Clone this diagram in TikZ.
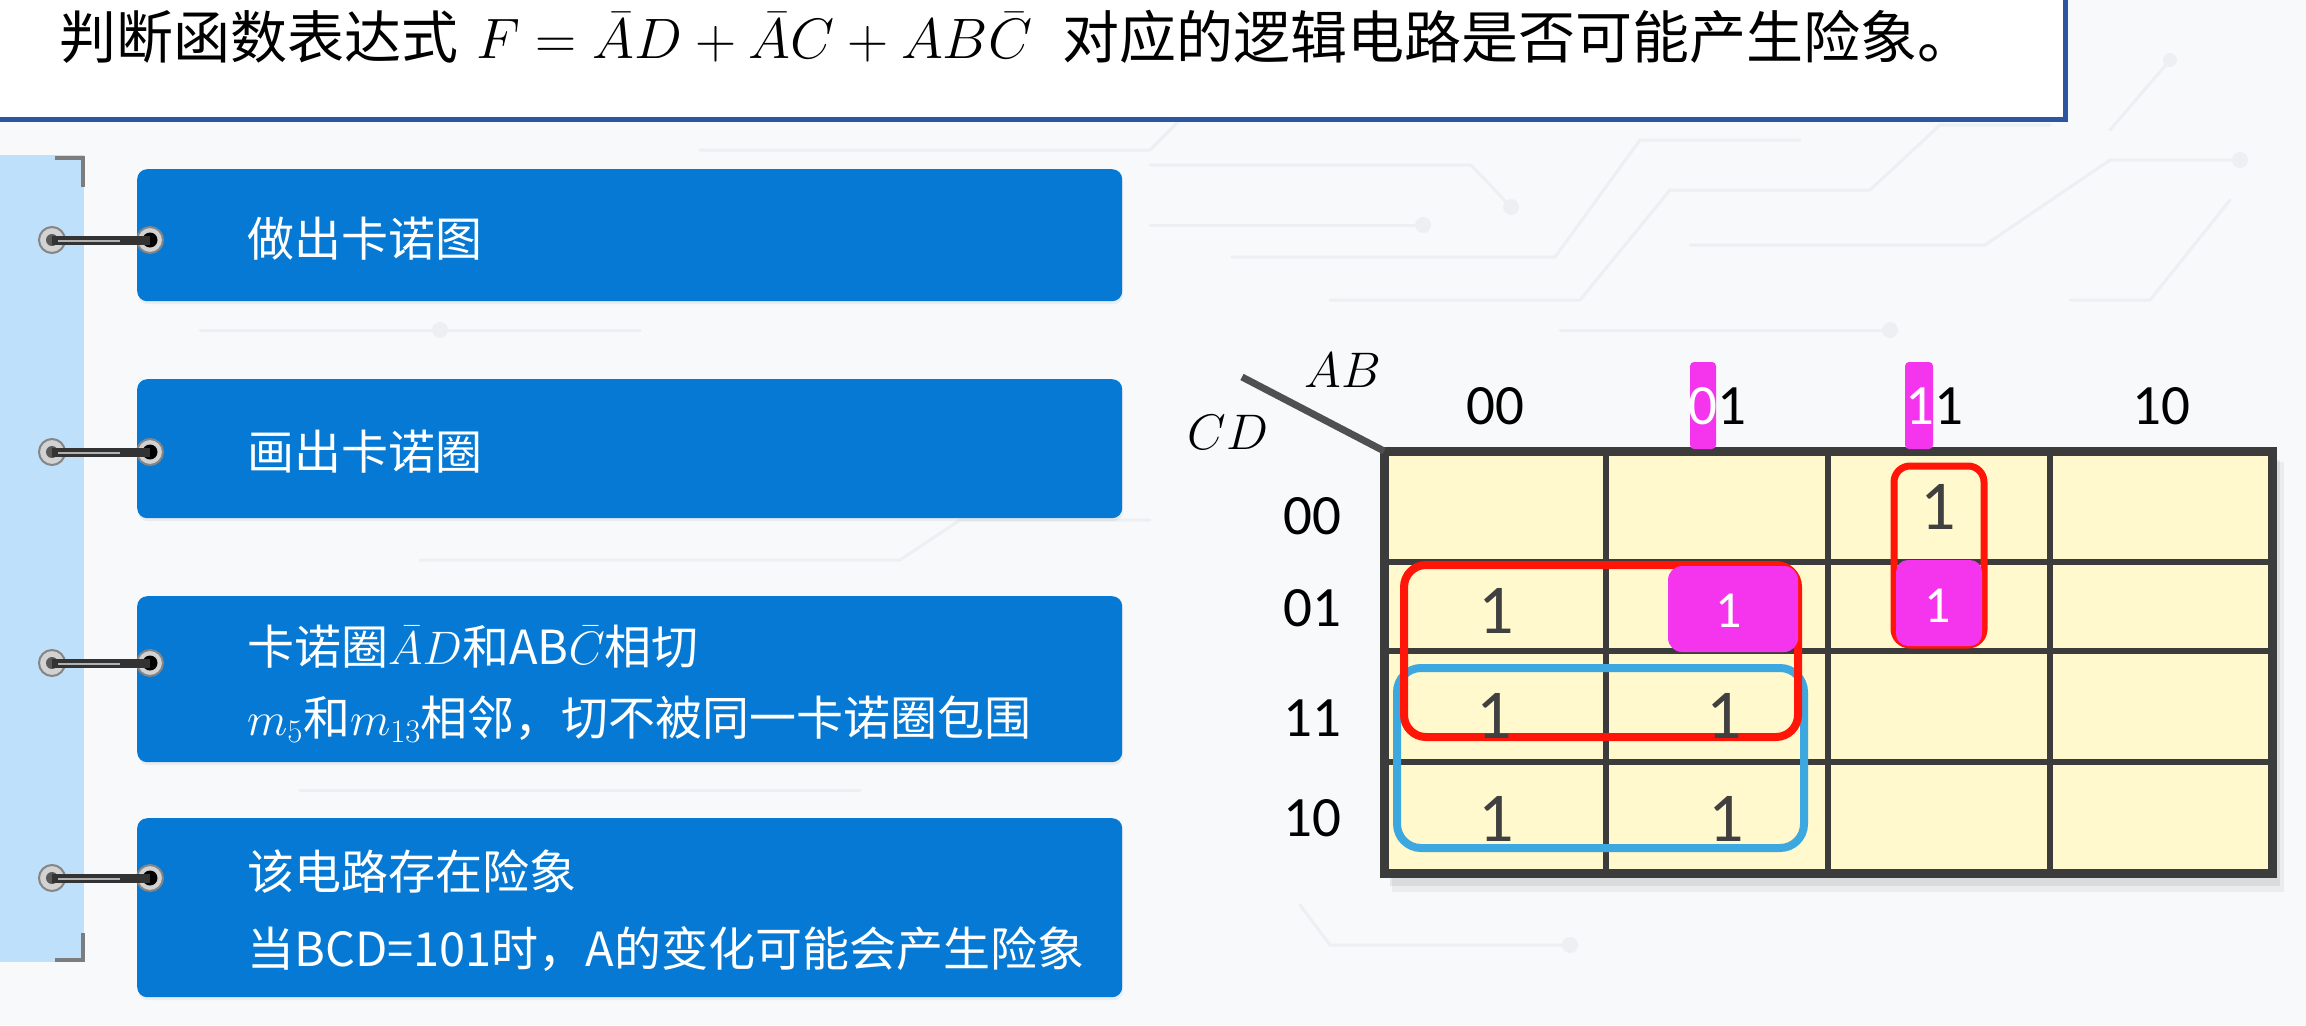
\RequirePackage{fix-cm}
\documentclass[tikz,border=0pt]{standalone}
\usepackage{fontspec}
\newfontfamily\cjk{Noto Sans CJK SC}
\newfontfamily\digitfont{Carlito}
\usetikzlibrary{shadows}
\definecolor{pagebg}{HTML}{F8F9FA}
\definecolor{tracecol}{HTML}{ECF0F3}
\definecolor{titleframe}{HTML}{2C56A4}
\definecolor{stepblue}{HTML}{0579D3}
\definecolor{spine}{HTML}{BEE0FA}
\definecolor{bracketgrey}{HTML}{7D7D7D}
\definecolor{ringgrey}{HTML}{D2D2D2}
\definecolor{ringedge}{HTML}{858585}
\definecolor{kfill}{HTML}{FFF9CD}
\definecolor{kline}{HTML}{3C3C3C}
\definecolor{loopred}{HTML}{FF1608}
\definecolor{loopblue}{HTML}{3CA8DF}
\definecolor{hilite}{HTML}{F535EE}
\definecolor{onecol}{HTML}{404040}
\begin{document}
\begin{tikzpicture}[x=1pt,y=-1pt,
  stepbox/.style={fill=stepblue, rounded corners=10pt, anchor=north west, inner sep=0pt, draw=none,
    drop shadow={opacity=0.10, shadow xshift=1pt, shadow yshift=-3pt}},
  steptext/.style={anchor=base west, inner sep=0pt, text=white, font=\cjk\fontsize{47}{56}\selectfont},
  ring/.style={circle, inner sep=0pt, minimum size=26pt, fill=ringgrey, draw=ringedge, line width=2pt},
  hookbar/.style={line width=9pt, draw=black!80},
  bracket/.style={draw=bracketgrey, line width=4pt},
  trace/.style={draw=tracecol, line width=3pt, line cap=round, line join=round},
  pad/.style={fill=tracecol},
  kgrid/.style={draw=kline, line width=6pt},
  loopline/.style={line width=8pt},
  hdr/.style={inner sep=0pt, font=\digitfont\fontsize{57}{60}\selectfont, text=black},
  axislabel/.style={inner sep=0pt, font=\fontsize{50}{55}\selectfont},
  one/.style={inner sep=0pt, font=\digitfont\fontsize{70}{72}\selectfont, text=onecol},
  onew/.style={inner sep=0pt, font=\digitfont\fontsize{52}{56}\selectfont, text=white},
]
\useasboundingbox (0,0) rectangle (2306,1025);
\fill[pagebg] (0,0) rectangle (2306,1025);

% faint circuit traces in the background
\draw[trace] (1150,165) -- (1471,165) -- (1511,207);
\fill[pad] (1511,207) circle (8);
\draw[trace] (1150,225) -- (1423,225);
\fill[pad] (1423,225) circle (8);
\draw[trace] (1232,257) -- (1555,257) -- (1640,140) -- (1800,140);
\draw[trace] (1330,300) -- (1580,300) -- (1670,190) -- (1870,190) -- (1940,125) -- (2050,125);
\draw[trace] (1690,245) -- (1985,245) -- (2110,160) -- (2240,160);
\fill[pad] (2240,160) circle (8);
\draw[trace] (1560,330) -- (1890,330);
\fill[pad] (1890,330) circle (8);
\draw[trace] (2070,300) -- (2150,300) -- (2230,200);
\draw[trace] (2110,130) -- (2170,60);
\fill[pad] (2170,60) circle (7);
\draw[trace] (200,330) -- (640,330);
\fill[pad] (440,330) circle (8);
\draw[trace] (700,150) -- (1150,150) -- (1190,110);
\draw[trace] (420,560) -- (900,560) -- (960,520) -- (1150,520);
\draw[trace] (300,790) -- (860,790);
\draw[trace] (1300,905) -- (1330,945) -- (1570,945);
\fill[pad] (1570,945) circle (8);

% title panel
\draw[titleframe, line width=5pt, fill=white] (-10,-10) rectangle (2065,119);
\node[anchor=base west, inner sep=0pt, font=\cjk\fontsize{57}{62}\selectfont] (title) at (59,59)
  {判断函数表达式\hspace{18pt}$F=\bar{A}D+\bar{A}C+AB\bar{C}$\hspace{30pt}对应的逻辑电路是否可能产生险象。};

% binder spine with corner brackets
\fill[spine] (0,155) rectangle (84,962);
\draw[bracket] (55,158) -- (83,158) -- (83,187);
\draw[bracket] (83,933) -- (83,960) -- (55,960);

% step boxes
\node[stepbox, minimum width=985pt, minimum height=132pt] (s1) at (137,169) {};
\node[stepbox, minimum width=985pt, minimum height=139pt] (s2) at (137,379) {};
\node[stepbox, minimum width=985pt, minimum height=166pt] (s3) at (137,596) {};
\node[stepbox, minimum width=985pt, minimum height=179pt] (s4) at (137,818) {};

\node[steptext] (t1) at (247,256) {做出卡诺图};
\node[steptext] (t2) at (247,469) {画出卡诺圈};
\node[steptext] (t3a) at (247,664) {卡诺圈$\bar{A}D$和AB$\bar{C}$相切};
\node[steptext] (t3b) at (247,735) {$m_5$和$m_{13}$相邻，切不被同一卡诺圈包围};
\node[steptext] (t4a) at (247,889) {该电路存在险象};
\node[steptext] (t4b) at (247,966) {当BCD=101时，A的变化可能会产生险象};

% rings hooking each box to the spine
\foreach \i/\yy in {1/240,2/452,3/663,4/878}{
  \node[ring] (hl\i) at (52,\yy) {};
  \node[ring] (hr\i) at (150,\yy) {};
  \fill[black!65] (hl\i.center) circle (6);
  \fill[black] (hr\i.center) circle (7.5);
  \draw[hookbar] (hl\i.center) -- (hr\i.center);
  \draw[white!70!black, line width=2.5pt] ([xshift=6pt,yshift=-1pt]hl\i.center) -- ([xshift=-30pt,yshift=-1pt]hr\i.center);
}

% Karnaugh map: shadow, cells and grid
\fill[black, opacity=0.07] (1390,460) rectangle (2280,886);
\fill[black, opacity=0.05] (1392,462) rectangle (2284,892);
\fill[kfill] (1384,451) rectangle (2272,873);
\coordinate (kNW) at (1384,451);
\foreach \xx in {1606,1828,2050} \draw[kgrid] (\xx,451) -- (\xx,873);
\foreach \yy in {562,651,762} \draw[kgrid] (1384,\yy) -- (2272,\yy);
\draw[kgrid, line width=9pt] (1384,451) rectangle (2272,873);

% corner diagonal and variable names
\coordinate (diagend) at (1242,377);
\draw[draw=kline!90, line width=7pt] (diagend) -- (kNW);
\node[axislabel] (ab) at (1343,370) {$AB$};
\node[axislabel] (cd) at (1228,432) {$CD$};

% column and row headings
\fill[hilite, rounded corners=4pt] (1690,362) rectangle (1716,449);
\fill[hilite, rounded corners=4pt] (1905,362) rectangle (1933,449);
\node[hdr] (c00) at (1495,406) {00};
\node[hdr] (c01) at (1717,406) {\textcolor{white}{0}1};
\node[hdr] (c11) at (1934,406) {\textcolor{white}{1}1};
\node[hdr] (c10) at (2161,406) {10};
\node[hdr] (r00) at (1312,516) {00};
\node[hdr] (r01) at (1312,608) {01};
\node[hdr] (r11) at (1312,718) {11};
\node[hdr] (r10) at (1312,818) {10};

% groupings
\draw[loopline, draw=loopblue, rounded corners=24pt] (1397,668) rectangle (1804,848);
\draw[loopline, draw=loopred, rounded corners=22pt] (1404,565) rectangle (1798,737);
\draw[loopline, draw=loopred, rounded corners=16pt, line width=7pt] (1894,466) rectangle (1984,645);

% highlighted adjacent minterms
\fill[hilite, rounded corners=14pt] (1668,566) rectangle (1798,652);
\fill[hilite, rounded corners=12pt] (1896,560) rectangle (1982,646);

% cell entries
\node[one] (m12) at (1938,507) {1};
\node[one] (m1) at (1496,611) {1};
\node[onew] (m5) at (1729,611) {1};
\node[onew] (m13) at (1938,606) {1};
\node[one] (m3) at (1494,716) {1};
\node[one] (m7) at (1724,716) {1};
\node[one] (m2) at (1496,819) {1};
\node[one] (m6) at (1726,819) {1};
\end{tikzpicture}
\end{document}
